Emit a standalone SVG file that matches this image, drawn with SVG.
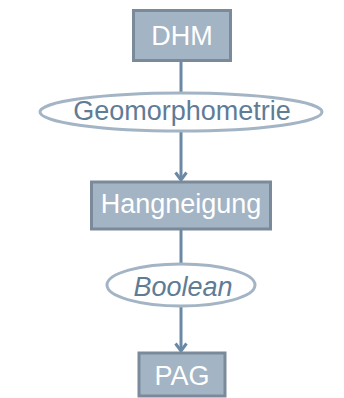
<svg xmlns="http://www.w3.org/2000/svg" width="344" height="398" viewBox="0 0 344 398">
<defs>
<style>
.box{fill:#a3b4c5;stroke:#7a8a9b;stroke-width:3}
.ell{fill:#ffffff;stroke:#a3b4c5;stroke-width:3}
.bt{font-family:"Liberation Sans",Arial,sans-serif;font-size:27px;fill:#ffffff;text-anchor:middle}
.et{font-family:"Liberation Sans",Arial,sans-serif;font-size:27px;fill:#5f7c96;text-anchor:middle}
.con{stroke:#6b89a5;stroke-width:3;fill:none}
</style>
<marker id="arr" markerWidth="14" markerHeight="14" refX="11" refY="7" orient="auto" markerUnits="userSpaceOnUse" viewBox="0 0 14 14">
<path d="M3.5,1.5 L11,7 L3.5,12.5" fill="none" stroke="#6b89a5" stroke-width="3"/>
</marker>
</defs>
<g id="connectors">
<line class="con" x1="181" y1="61" x2="181" y2="93"/>
<line class="con" x1="181" y1="131" x2="181" y2="180" marker-end="url(#arr)"/>
<line class="con" x1="181" y1="229" x2="181" y2="264"/>
<line class="con" x1="181" y1="306" x2="181" y2="351" marker-end="url(#arr)"/>
</g>
<g id="dhm">
<rect class="box" x="133.5" y="10.5" width="97" height="50"/>
<text class="bt" x="182" y="45">DHM</text>
</g>
<g id="geomorphometrie">
<ellipse class="ell" cx="181" cy="112" rx="141" ry="19"/>
<text class="et" x="182" y="120">Geomorphometrie</text>
</g>
<g id="hangneigung">
<rect class="box" x="91.5" y="182" width="179" height="47"/>
<text class="bt" x="181" y="213">Hangneigung</text>
</g>
<g id="boolean">
<ellipse class="ell" cx="181" cy="285" rx="74" ry="21"/>
<text class="et" x="183" y="296" font-style="italic">Boolean</text>
</g>
<g id="pag">
<rect class="box" x="139" y="353" width="86" height="43"/>
<text class="bt" x="182" y="385">PAG</text>
</g>
</svg>
